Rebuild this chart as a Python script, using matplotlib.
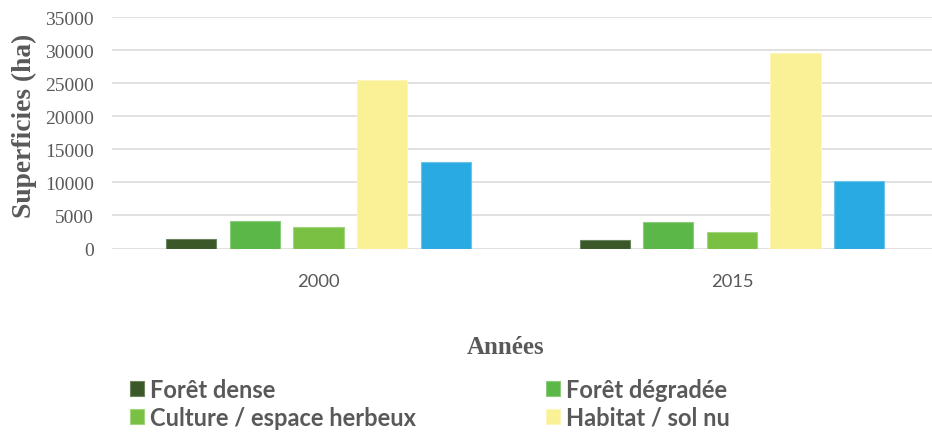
import matplotlib
matplotlib.use("Agg")
import matplotlib.pyplot as plt
import numpy as np

years = ["2000", "2015"]
series = ["Forêt dense", "Forêt dégradée", "Culture / espace herbeux", "Habitat / sol nu", "Autre"]
values = {
    "Forêt dense": [1450, 1300],
    "Forêt dégradée": [4180, 4020],
    "Culture / espace herbeux": [3220, 2460],
    "Habitat / sol nu": [25550, 29550],
    "Autre": [13100, 10170],
}
colors = ["#3B5828", "#5BB748", "#7AC143", "#FAF096", "#2AAAE2"]
edges = ["#6E8460", "#8DCC7F", "#A3D47F", "#FCF5BC", "#6DC3EA"]
yticks = [0, 5000, 10000, 15000, 20000, 25000, 30000, 35000]

W, H = 932, 435
fig = plt.figure(figsize=(W / 100, H / 100), dpi=100)
left_px, right_px, bottom_px, top_px = 111.75, 932, 249.5, 18.3
ax = fig.add_axes([left_px / W, 1 - bottom_px / H, (right_px - left_px) / W, (bottom_px - top_px) / H])

gray = "#595959"
x = np.arange(len(years))
step = 0.1536
width = 0.121
handles = []
for i, s in enumerate(series):
    b = ax.bar(x + (i - 2) * step, values[s], width=width, color=colors[i],
               edgecolor=edges[i], linewidth=0.8, zorder=3)
    handles.append(b)

ax.set_xlim(-0.5, 1.4837)
ax.set_ylim(0, 35000)
ax.set_yticks(yticks)
ax.set_yticklabels([str(v) for v in yticks], family="Liberation Serif", fontsize=14, color=gray)
ax.set_xticks(x)
ax.set_xticklabels(years, family="Lato", fontsize=13.2, color=gray)
ax.tick_params(axis="y", length=0, pad=13)
ax.tick_params(axis="x", length=0, pad=17.5)
ax.grid(axis="y", color="#D9D9D9", linewidth=1.1, zorder=0)
ax.set_axisbelow(True)
for sp in ax.spines.values():
    sp.set_visible(False)

ax.set_ylabel("Superficies (ha)", family="Liberation Serif", fontweight="bold",
              fontsize=19.8, color=gray, va="center")
ax.yaxis.set_label_coords((24 - left_px) / (right_px - left_px), (bottom_px - 126) / (bottom_px - top_px))
ax.set_xlabel("Années", family="Liberation Serif", fontweight="bold",
              fontsize=18, color=gray, va="center")
ax.xaxis.set_label_coords((506 - left_px) / (right_px - left_px), (bottom_px - 348) / (bottom_px - top_px))

order = [0, 2, 1, 3]
leg = fig.legend([handles[k] for k in order], [series[k] for k in order],
                 loc="upper left", bbox_to_anchor=(130 / W, 1 - 379 / H), ncol=2,
                 frameon=False, prop={"family": "Lato", "weight": "bold", "size": 17},
                 handlelength=0.6, handleheight=0.6, handletextpad=0.25,
                 columnspacing=5.5, labelspacing=0.2, borderaxespad=0, borderpad=0)
for t in leg.get_texts():
    t.set_color(gray)

fig.savefig("out.png", dpi=100)
